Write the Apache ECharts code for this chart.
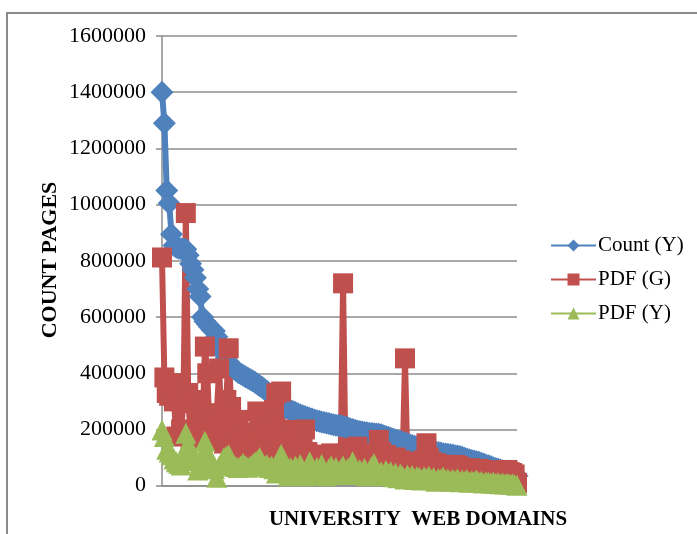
<!DOCTYPE html>
<html>
<head>
<meta charset="utf-8">
<script src="https://cdn.jsdelivr.net/npm/echarts@6/dist/echarts.min.js"></script>
<style>
  html, body { margin: 0; padding: 0; background: #fff; }
  #chart { width: 697px; height: 534px; }
</style>
</head>
<body>
<div id="chart"></div>
<script>
// Page counts per university web domain, sorted by total page count (Y)
const countY = [
  1400000, 1290000, 1050000, 1005000, 895000, 855000, 848000, 845000, 843000, 842000,
  841000, 820000, 790000, 768000, 740000, 700000, 673000, 600000, 585000, 575000,
  565000, 555000, 550000, 530000, 505000, 485000, 470000, 455000, 440000, 428000,
  418000, 410000, 403000, 398000, 393000, 388000, 383000, 378000, 373000, 368000,
  362000, 356000, 350000, 343000, 336000, 329000, 322000, 314000, 307000, 299000,
  292000, 284000, 277000, 273000, 268000, 264000, 260000, 256000, 252000, 249000,
  246000, 243000, 240000, 237000, 234000, 231000, 229000, 227000, 225000, 223000,
  221000, 219000, 217000, 215000, 214000, 213000, 211000, 209000, 206000, 203000,
  200000, 197000, 195000, 193000, 191000, 189000, 188000, 187000, 186000, 185000,
  184000, 183000, 181000, 178000, 175000, 172000, 169000, 166000, 163000, 160000,
  158000, 155000, 152000, 149000, 146000, 143000, 140000, 138000, 136000, 134000,
  132000, 130000, 127000, 125000, 122000, 120000, 118000, 116000, 114000, 113000,
  112000, 110000, 109000, 107000, 106000, 104000, 101000, 98000, 95000, 92000,
  90000, 88000, 85000, 83000, 80000, 77000, 74000, 71000, 68000, 64000,
  61000, 59000, 56000, 53000, 50000, 47000, 44000, 41000, 38000, 35000
];

// PDF pages per domain as reported by G
const pdfG = [
  812000, 385000, 330000, 320000, 360000, 300000, 175000, 365000, 200000, 295000,
  970000, 330000, 160000, 294000, 305000, 211000, 258000, 170000, 495000, 400000,
  186000, 245000, 160000, 258000, 417000, 211000, 150000, 305000, 489000, 280000,
  200000, 160000, 234000, 130000, 190000, 140000, 125000, 175000, 130000, 150000,
  264000, 222000, 140000, 180000, 125000, 160000, 120000, 270000, 329000, 200000,
  335000, 150000, 198000, 110000, 130000, 100000, 115000, 140000, 105000, 186000,
  200000, 120000, 100000, 110000, 95000, 105000, 100000, 110000, 98000, 103000,
  108000, 115000, 100000, 105000, 98000, 110000, 720000, 100000, 105000, 115000,
  100000, 118000, 139000, 110000, 100000, 105000, 112000, 100000, 110000, 103000,
  115000, 163000, 120000, 105000, 109000, 98000, 100000, 95000, 100000, 88000,
  90000, 85000, 453000, 80000, 85000, 78000, 82000, 75000, 80000, 85000,
  90000, 151000, 100000, 85000, 78000, 80000, 75000, 72000, 70000, 74000,
  68000, 70000, 65000, 74000, 70000, 66000, 62000, 60000, 58000, 62000,
  60000, 57000, 55000, 60000, 56000, 54000, 52000, 55000, 50000, 52000,
  48000, 50000, 47000, 52000, 50000, 56000, 48000, 45000, 40000, 10000
];

// PDF pages per domain as reported by Y
const pdfY = [
  198000, 175000, 130000, 120000, 110000, 95000, 85000, 80000, 74000, 100000,
  187000, 150000, 120000, 100000, 90000, 56000, 80000, 110000, 158000, 120000,
  90000, 70000, 60000, 30000, 70000, 80000, 100000, 105000, 110000, 85000,
  75000, 68000, 65000, 70000, 80000, 72000, 66000, 70000, 75000, 85000,
  90000, 100000, 80000, 70000, 75000, 65000, 70000, 60000, 45000, 70000,
  112000, 80000, 55000, 35000, 65000, 45000, 70000, 50000, 75000, 55000,
  35000, 65000, 85000, 60000, 45000, 65000, 40000, 75000, 50000, 35000,
  60000, 70000, 45000, 65000, 40000, 58000, 70000, 45000, 62000, 50000,
  85000, 60000, 40000, 58000, 45000, 62000, 35000, 52000, 68000, 78000,
  55000, 40000, 50000, 35000, 55000, 40000, 50000, 32000, 45000, 28000,
  42000, 33000, 24000, 38000, 28000, 36000, 22000, 33000, 30000, 20000,
  32000, 26000, 34000, 21000, 29000, 16000, 26000, 23000, 31000, 19000,
  25000, 16000, 23000, 18000, 25000, 14000, 20000, 16000, 22000, 12000,
  18000, 15000, 20000, 12000, 16000, 10000, 14000, 12000, 10000, 13000,
  8000, 11000, 7000, 10000, 6000, 9000, 5000, 7000, 4000, 2000
];

const domains = countY.map((_, i) => 'D' + (i + 1));
const yTicks = { min: 0, max: 1600000, step: 200000 };

const seriesNames = ['Count (Y)', 'PDF (G)', 'PDF (Y)'];
const colors = ['#4F81BD', '#C0504D', '#9BBB59'];
const serif = '"Liberation Serif", "Times New Roman", serif';

const chart = echarts.init(document.getElementById('chart'), null, { renderer: 'canvas' });

function lineSeries(name, data, color, symbol, size) {
  return {
    name: name,
    type: 'line',
    data: data,
    symbol: symbol,
    symbolSize: size,
    showAllSymbol: true,
    lineStyle: { color: color, width: 6 },
    itemStyle: { color: color, borderWidth: 0 },
    emphasis: { disabled: true },
    animation: false
  };
}

chart.setOption({
  animation: false,
  backgroundColor: '#ffffff',
  grid: { left: 162, top: 36, width: 355, height: 449.7, containLabel: false },
  xAxis: {
    type: 'category',
    data: domains,
    boundaryGap: false,
    axisLine: { show: true, lineStyle: { color: '#8c8c8c', width: 1.5 } },
    axisTick: { show: false },
    axisLabel: { show: false },
    splitLine: { show: false }
  },
  yAxis: {
    type: 'value',
    min: yTicks.min,
    max: yTicks.max,
    interval: yTicks.step,
    axisLine: { show: true, lineStyle: { color: '#8c8c8c', width: 1.5 } },
    axisTick: { show: true, length: 6, lineStyle: { color: '#8c8c8c', width: 1.5 } },
    axisLabel: {
      margin: 16, color: '#000', fontFamily: serif, fontSize: 22,
      formatter: (v) => String(v)
    },
    splitLine: { show: true, lineStyle: { color: '#8c8c8c', width: 1.5 } }
  },
  legend: {
    orient: 'vertical',
    left: 545,
    top: 230,
    itemWidth: 45,
    itemHeight: 15,
    itemGap: 13,
    data: seriesNames,
    textStyle: { color: '#000', fontFamily: serif, fontSize: 21, padding: [0, 0, 0, -3] }
  },
  graphic: [
    {
      type: 'rect',
      shape: { x: 7, y: 13, width: 720, height: 560 },
      style: { fill: 'none', stroke: '#8a8a8a', lineWidth: 2 },
      silent: true
    },
    {
      type: 'text',
      x: 50, y: 260,
      rotation: Math.PI / 2,
      style: {
        text: 'COUNT PAGES',
        fill: '#000',
        font: 'bold 22px ' + serif,
        align: 'center',
        verticalAlign: 'middle'
      }
    },
    {
      type: 'text',
      x: 418, y: 520,
      style: {
        text: 'UNIVERSITY  WEB DOMAINS',
        fill: '#000',
        font: 'bold 21px ' + serif,
        align: 'center',
        verticalAlign: 'middle'
      }
    }
  ],
  series: [
    lineSeries(seriesNames[0], countY, colors[0], 'diamond', 23),
    lineSeries(seriesNames[1], pdfG, colors[1], 'rect', 20),
    lineSeries(seriesNames[2], pdfY, colors[2], 'triangle', 21)
  ]
});
</script>
</body>
</html>
